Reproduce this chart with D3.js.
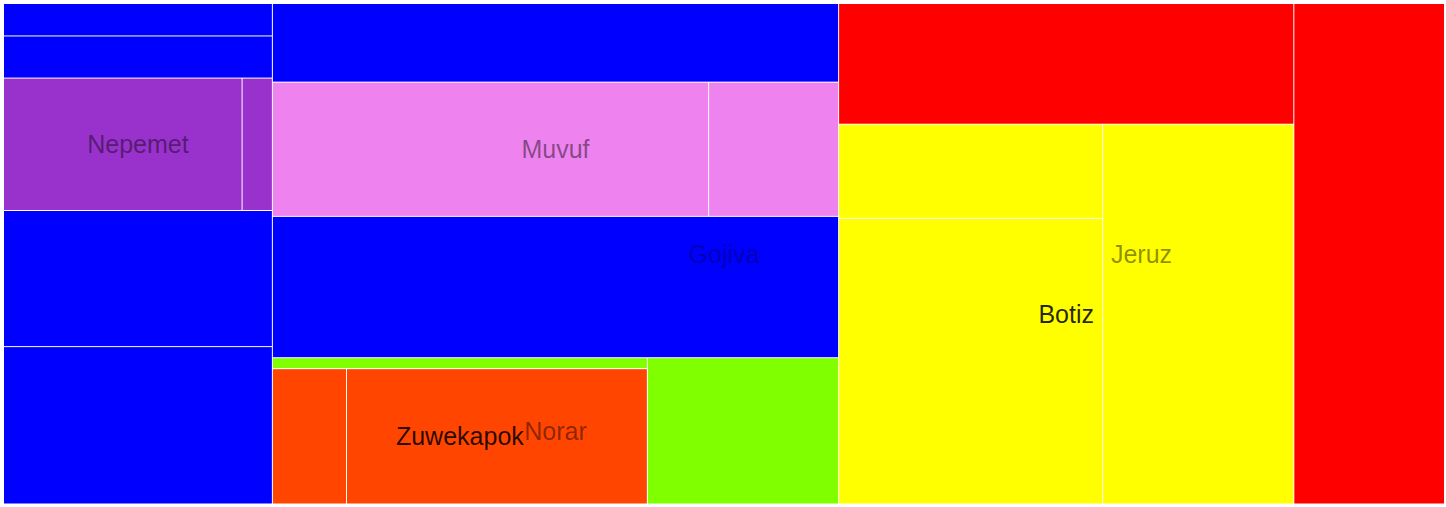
<!DOCTYPE html>
<html>
<head>
<meta charset="utf-8">
<script src="https://cdn.jsdelivr.net/npm/d3@7"></script>
<style>
html, body { margin: 0; padding: 0; background: #ffffff; overflow: hidden; }
svg { display: block; }
</style>
</head>
<body>
<svg id="chart" width="1446" height="507"></svg>
<script>
// ---- data (tree order matters: children keep this order) ----
const ids = ["root","col1","a1","a2","Nepemet","n1","n2","a3","a4",
             "col2","b1","Muvuf","m1","m2","b2","Norar","normain","g1","Zuwekapok","o1","o2","g2",
             "col3","Jeruz","jerlead","r1","Botiz","botlead","y1","y2","y3","r2"];
const parents = [null,"root","col1","col1","col1","Nepemet","Nepemet","col1","col1",
             "root","col2","col2","Muvuf","Muvuf","col2","col2","Norar","normain","normain","Zuwekapok","Zuwekapok","Norar",
             "root","col3","Jeruz","jerlead","jerlead","Botiz","botlead","botlead","Botiz","Jeruz"];
const values = [0,0,87,113,0,315,40,365,422,
             0,444,0,584,174,798,0,0,41,0,100,406,279,
             0,0,0,548,0,0,248,752,724,752];
const labels = ["Gojiva","","","","Nepemet","","","","",
             "","","Muvuf","","","","Norar","","","Zuwekapok","","","",
             "","Jeruz","","","Botiz","","","","",""];

// colour palette per labelled group
const groupNames  = ["Gojiva","Nepemet","Muvuf","Norar","Zuwekapok","Jeruz","Botiz"];
const groupColors = ["#0000ff","#9932cc","#ee82ee","#7fff00","#ff4500","#ff0000","#ffff00"];

// ---- layout ----
const W = 1446, H = 507;
const margin = {left: 4, top: 4, right: 2, bottom: 3.5};
const svg = d3.select("#chart");
const g = svg.append("g").attr("transform", `translate(${margin.left},${margin.top})`);

const table = ids.map((id, i) => ({id, parent: parents[i], value: values[i], label: labels[i]}));
const root = d3.stratify().id(d => d.id).parentId(d => d.parent)(table)
  .sum(d => d.value);

d3.treemap()
  .tile(d3.treemapSliceDice)
  .size([W - margin.left - margin.right, H - margin.top - margin.bottom])
  .paddingInner(1)(root);

const color = d3.scaleOrdinal().domain(groupNames).range(groupColors);

function groupOf(node) {
  let n = node;
  while (n && !n.data.label) n = n.parent;
  return n;
}
function labelDepth(node) {
  let k = 0, n = node.parent;
  while (n) { if (n.data.label) k++; n = n.parent; }
  return k;
}
const labelOpacity = [0.3, 0.45, 0.85];

g.selectAll("rect.leaf")
  .data(root.leaves())
  .join("rect")
  .attr("class", "leaf")
  .attr("x", d => d.x0)
  .attr("y", d => d.y0)
  .attr("width", d => Math.max(0, d.x1 - d.x0))
  .attr("height", d => Math.max(0, d.y1 - d.y0))
  .attr("fill", d => color(groupOf(d).data.label));

g.selectAll("text.lbl")
  .data(root.descendants().filter(d => d.data.label))
  .join("text")
  .attr("class", "lbl")
  .attr("x", d => (d.x0 + d.x1) / 2)
  .attr("y", d => (d.y0 + d.y1) / 2)
  .attr("dy", "0.35em")
  .attr("text-anchor", "middle")
  .attr("font-family", "'Liberation Sans', Arial, sans-serif")
  .attr("font-size", 25)
  .attr("fill", "#000")
  .attr("fill-opacity", d => labelOpacity[Math.min(2, labelDepth(d))])
  .text(d => d.data.label);
</script>
</body>
</html>
